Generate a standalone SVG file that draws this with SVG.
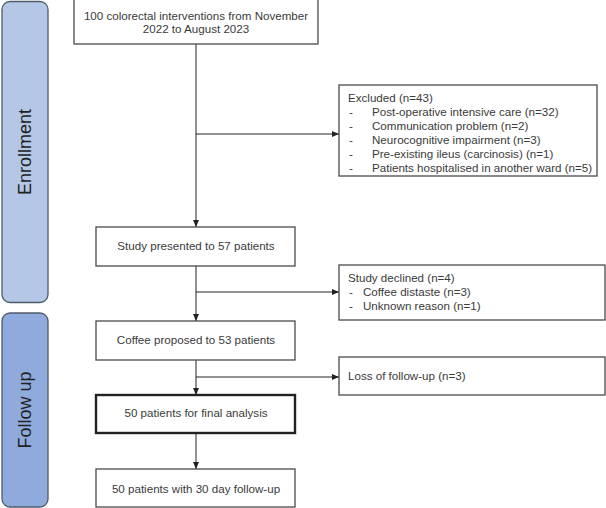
<svg xmlns="http://www.w3.org/2000/svg" width="606" height="508" viewBox="0 0 606 508">
<defs>
<marker id="ah" markerWidth="7" markerHeight="6" refX="7" refY="3" orient="auto" markerUnits="userSpaceOnUse">
<path d="M0,0 L7,3 L0,6 Z" fill="#222"/>
</marker>
</defs>
<style>
.box{fill:#fff;stroke:#4a4a4a;stroke-width:1.3}
.thick{fill:#fff;stroke:#222;stroke-width:2.4}
.t{font-family:"Liberation Sans",Arial,sans-serif;font-size:11.6px;fill:#3a3a3a}
.c{text-anchor:middle}
.band{stroke:#505a68;stroke-width:1.3}
.bt{font-family:"Liberation Sans",Arial,sans-serif;font-size:18px;fill:#222;text-anchor:middle}
.ln{stroke:#222;stroke-width:1;fill:none}
</style>
<rect width="606" height="508" fill="#fff"/>
<g id="enrollment">
<rect class="band" x="2" y="1.5" width="46" height="301" rx="8" fill="#b4c7e7"/>
<text class="bt" transform="translate(31,152) rotate(-90)">Enrollment</text>
</g>
<g id="followup">
<rect class="band" x="2" y="313" width="46" height="194" rx="8" fill="#8faadc"/>
<text class="bt" transform="translate(31,410) rotate(-90)">Follow up</text>
</g>
<g id="connectors">
<line class="ln" x1="196" y1="44" x2="196" y2="227" marker-end="url(#ah)"/>
<line class="ln" x1="196" y1="134" x2="339" y2="134" marker-end="url(#ah)"/>
<line class="ln" x1="196" y1="266" x2="196" y2="321" marker-end="url(#ah)"/>
<line class="ln" x1="196" y1="292" x2="339" y2="292" marker-end="url(#ah)"/>
<line class="ln" x1="196" y1="360" x2="196" y2="395" marker-end="url(#ah)"/>
<line class="ln" x1="196" y1="377" x2="339" y2="377" marker-end="url(#ah)"/>
<line class="ln" x1="196" y1="433" x2="196" y2="469" marker-end="url(#ah)"/>
</g>
<g id="n-start">
<rect class="box" x="74" y="-1" width="244" height="45"/>
<text class="t c" x="196" y="20">100 colorectal interventions from November</text>
<text class="t c" x="196" y="33">2022 to August 2023</text>
</g>
<g id="n-excluded">
<rect class="box" x="339" y="85" width="258" height="91"/>
<text class="t" x="348" y="102">Excluded (n=43)</text>
<text class="t" x="349" y="116">-</text><text class="t" x="372" y="116">Post-operative intensive care (n=32)</text>
<text class="t" x="349" y="130">-</text><text class="t" x="372" y="130">Communication problem (n=2)</text>
<text class="t" x="349" y="144">-</text><text class="t" x="372" y="144">Neurocognitive impairment (n=3)</text>
<text class="t" x="349" y="158">-</text><text class="t" x="372" y="158">Pre-existing ileus (carcinosis) (n=1)</text>
<text class="t" x="349" y="172">-</text><text class="t" x="372" y="172">Patients hospitalised in another ward (n=5)</text>
</g>
<g id="n-study">
<rect class="box" x="96" y="227" width="199" height="39"/>
<text class="t c" x="196" y="250">Study presented to 57 patients</text>
</g>
<g id="n-declined">
<rect class="box" x="339" y="265" width="266" height="55"/>
<text class="t" x="348" y="282">Study declined (n=4)</text>
<text class="t" x="349" y="296">-</text><text class="t" x="363" y="296">Coffee distaste (n=3)</text>
<text class="t" x="349" y="310">-</text><text class="t" x="363" y="310">Unknown reason (n=1)</text>
</g>
<g id="n-coffee">
<rect class="box" x="96" y="321" width="199" height="39"/>
<text class="t c" x="196" y="344">Coffee proposed to 53 patients</text>
</g>
<g id="n-loss">
<rect class="box" x="339" y="357" width="266" height="38"/>
<text class="t" x="348" y="380">Loss of follow-up (n=3)</text>
</g>
<g id="n-final">
<rect class="thick" x="96" y="395" width="199" height="38"/>
<text class="t c" x="196" y="417">50 patients for final analysis</text>
</g>
<g id="n-followup">
<rect class="box" x="96" y="469" width="199" height="38"/>
<text class="t c" x="196" y="493">50 patients with 30 day follow-up</text>
</g>
</svg>
